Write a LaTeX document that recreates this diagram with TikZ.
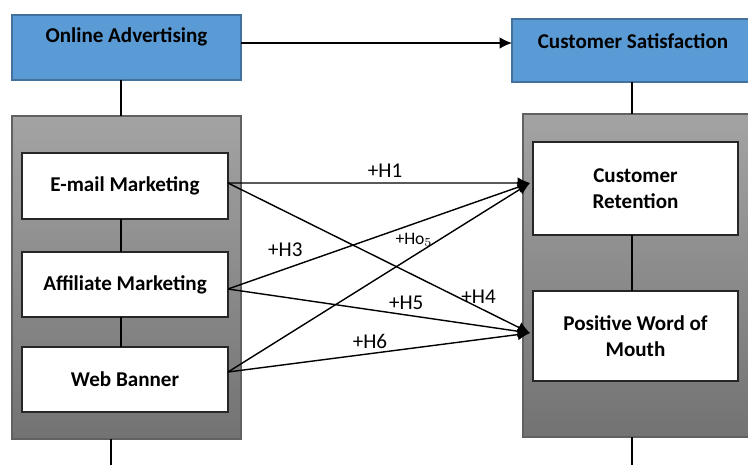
\documentclass[tikz,border=0pt]{standalone}
\usepackage{fontspec}
\setmainfont{Carlito}
\usetikzlibrary{arrows.meta}
\definecolor{boxblue}{RGB}{91,155,213}
\definecolor{boxblueline}{RGB}{65,113,156}
\begin{document}
\begin{tikzpicture}[x=0.02cm,y=-0.02cm,>={Latex[length=7pt,width=6.5pt]},
    every node/.style={inner sep=0pt,outer sep=0pt},
    headbox/.style={draw=boxblueline,fill=boxblue,line width=0.8pt},
    groupbox/.style={draw=black!62,top color=black!36,bottom color=black!55,line width=0.8pt},
    itembox/.style={draw=black!85,fill=white,line width=0.8pt,align=center,
        font=\fontsize{12}{14.5}\selectfont\bfseries},
    headtext/.style={anchor=center,yshift=-0.44cm,font=\fontsize{12}{14.5}\selectfont\bfseries},
    hyp/.style={font=\fontsize{12}{14}\selectfont},
    link/.style={line width=0.8pt}]
\useasboundingbox (0,0) rectangle (748,464);
\clip (0,0) rectangle (748,464);
\node[headbox,minimum width=4.58cm,minimum height=1.3cm,
    label={[headtext]north:Online Advertising}] (oa) at (126.5,47.5) {};
\node[headbox,minimum width=4.96cm,minimum height=1.26cm,
    label={[headtext,xshift=-0.06cm]north:Customer Satisfaction}] (cs) at (636,50.5) {};
\node[groupbox,minimum width=4.58cm,minimum height=6.46cm] (lgrey) at (126.5,277.5) {};
\node[groupbox,minimum width=4.74cm,minimum height=6.46cm] (rgrey) at (641.5,275.5) {};
\node[itembox,minimum width=4.12cm,minimum height=1.32cm] (em) at (125,186) {E-mail Marketing};
\node[itembox,minimum width=4.12cm,minimum height=1.3cm] (am) at (125,284.5) {Affiliate Marketing};
\node[itembox,minimum width=4.12cm,minimum height=1.3cm] (wb) at (125,379.5) {Web Banner};
\node[itembox,minimum width=4.1cm,minimum height=1.86cm] (cr) at (635.5,188.5) {Customer\\Retention};
\node[itembox,minimum width=4.1cm,minimum height=1.8cm] (pwm) at (635.5,336) {Positive Word of\\Mouth};
\coordinate (crIn) at (530,183);
\coordinate (pwmIn) at (530,333);
\coordinate (lCol) at (121,0);
\coordinate (rCol) at (632,0);
\coordinate (lgEnd) at (111,470);
\coordinate (rgEnd) at (632,470);
\draw[link] (lCol |- oa.south) -- (lCol |- lgrey.north);
\draw[link] (rCol |- cs.south) -- (rCol |- rgrey.north);
\draw[link] (lCol |- em.south) -- (lCol |- am.north);
\draw[link] (lCol |- am.south) -- (lCol |- wb.north);
\draw[link] (rCol |- cr.south) -- (rCol |- pwm.north);
\draw[link] (lgEnd |- lgrey.south) -- (lgEnd);
\draw[link] (rgEnd |- rgrey.south) -- (rgEnd);
\draw[link,->] ([yshift=0.09cm]oa.east) -- ([yshift=0.09cm]oa.east -| cs.west);
\draw[link,->] ([yshift=0.06cm]em.east) -- node[hyp,above=3pt,pos=0.52] {+H1} (crIn);
\draw[link,->] ([yshift=0.06cm]em.east) -- node[hyp,above=2pt,pos=0.83] {+H4} (pwmIn);
\draw[link,->] ([yshift=-0.09cm]am.east) -- node[hyp,above=7pt,pos=0.19] {+H3} (crIn);
\draw[link,->] ([yshift=-0.09cm]am.east) -- node[hyp,above=3pt,pos=0.59] {+H5} (pwmIn);
\draw[link,->] ([yshift=0.15cm]wb.east) -- node[left=4pt,pos=0.7,font=\fontsize{10}{12}\selectfont] {+Ho$_5$} (crIn);
\draw[link,->] ([yshift=0.15cm]wb.east) -- node[hyp,above=3pt,pos=0.47] {+H6} (pwmIn);
\end{tikzpicture}
\end{document}
